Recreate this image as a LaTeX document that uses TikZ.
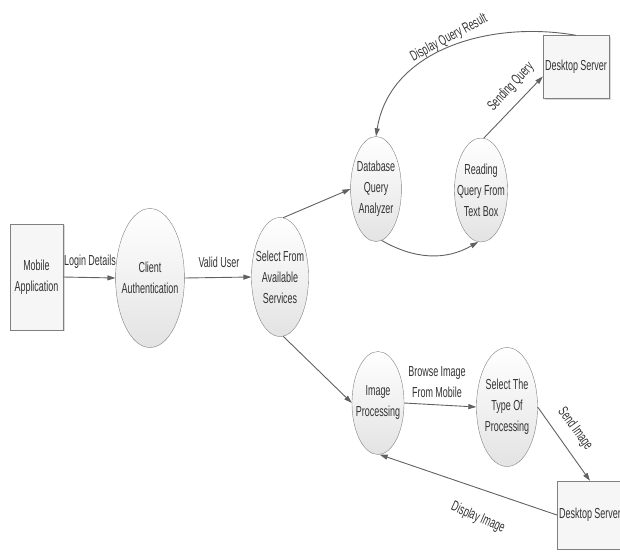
\documentclass[tikz,border=0pt]{standalone}
\usepackage{fontspec}
\setmainfont{Liberation Sans}
\usetikzlibrary{arrows.meta,shapes.geometric,shadows}

\begin{document}
\begin{tikzpicture}[x=1pt,y=1pt,
  txt/.style={text=black!80,font=\fontsize{14.5}{21}\selectfont,align=center,xscale=0.62},
  proc/.style={ellipse,txt,draw=gray,top color=white,bottom color=gray!22,inner xsep=-10pt,inner ysep=0pt},
  ent/.style={rectangle,txt,draw=gray,fill=gray!7,inner sep=0pt,
    drop shadow={shadow xshift=1.6pt,shadow yshift=-1pt,opacity=0.3}},
  flow/.style={draw=black!62,line width=0.9pt,-{Triangle[length=8pt,width=5pt]}},
  lbl/.style={txt,inner sep=0pt}]

\useasboundingbox (0,0) rectangle (620,-555);

% processes and entities (widths divided by the 0.62 squeeze)
\node[ent,minimum width=85.5,minimum height=106] (mobapp) at (36.5,-277) {Mobile\\Application};
\node[proc,minimum width=111,minimum height=139] (clauth) at (150,-278) {Client\\Authentication};
\node[proc,minimum width=92,minimum height=119] (selsvc) at (280,-277) {Select From\\Available\\Services};
\node[proc,minimum width=82,minimum height=105] (dbq) at (376,-189) {Database\\Query\\Analyzer};
\node[proc,minimum width=85.5,minimum height=104] (rdq) at (481,-190) {Reading\\Query From\\Text Box};
\node[ent,minimum width=106.5,minimum height=63] (dsq) at (576,-67) {Desktop Server};
\node[proc,minimum width=84,minimum height=103] (imgp) at (378,-403) {Image\\Processing};
\node[proc,minimum width=98.5,minimum height=119] (seltp) at (507,-407) {Select The\\Type Of\\Processing};
\node[ent,minimum width=106.5,minimum height=68] (dsi) at (590,-515) {Desktop Server};

% data flows
\draw[flow] (mobapp.east) -- (clauth.west);
\draw[flow] (clauth.east) -- (selsvc.west);
\draw[flow] (selsvc.85) -- (dbq.west);
\draw[flow] (selsvc.-85) -- (imgp.west);
\draw[flow] (dbq.-80) to[out=-30,in=-150] (rdq.-95);
\draw[flow] (rdq.85) -- (dsq.190);
\draw[flow] (dsq.north) to[out=170,in=81] (dbq.north);
\draw[flow] (imgp.east) -- (seltp.west);
\draw[flow] (seltp.east) -- (dsi.north);
\draw[flow] (dsi.west) -- (imgp.-87);

% flow labels (rotate first, then squeeze)
\node[lbl] (lblogin) at (90,-262) {Login Details};
\node[lbl] (lbvalid) at (219,-262) {Valid User};
\node[rotate=28,lbl] (lbresult) at (449,-38) {Display Query Result};
\node[rotate=47,lbl] (lbsend) at (511,-87) {Sending Query};
\node[lbl] (lbbrowse) at (437,-382) {Browse Image\\From Mobile};
\node[rotate=-54,lbl] (lbsendimg) at (575,-429) {Send Image};
\node[rotate=-24,lbl] (lbdispimg) at (478,-518) {Display Image};
\end{tikzpicture}
\end{document}
